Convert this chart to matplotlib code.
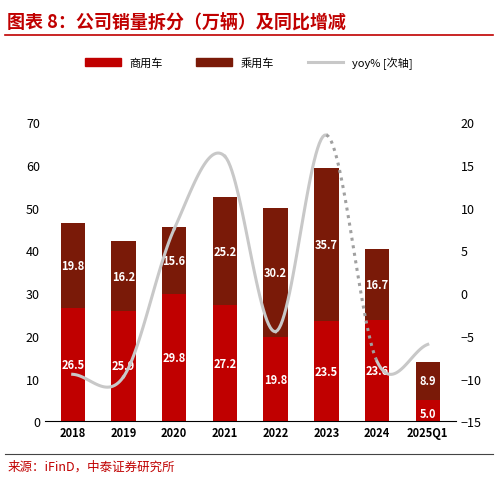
import numpy as np
import matplotlib.pyplot as plt
from matplotlib.lines import Line2D
from matplotlib.patches import Patch

plt.rcParams['font.family'] = ['Noto Sans CJK SC', 'DejaVu Sans']

years = ["2018", "2019", "2020", "2021", "2022", "2023", "2024", "2025Q1"]
commercial = [26.5, 25.9, 29.8, 27.2, 19.8, 23.5, 23.6, 5.0]
passenger = [19.8, 16.2, 15.6, 25.2, 30.2, 35.7, 16.7, 8.9]
yoy = [-9.5, -9.8, 7.5, 16.0, -4.5, 18.5, -8.0, -6.0]

RED = "#C00000"
DARK = "#7A1A08"


def smooth(xs, ys, n=30):
    # Catmull-Rom through the points, only for drawing the curve
    xs, ys = np.asarray(xs, float), np.asarray(ys, float)
    px = np.concatenate([[2 * xs[0] - xs[1]], xs, [2 * xs[-1] - xs[-2]]])
    py = np.concatenate([[2 * ys[0] - ys[1]], ys, [2 * ys[-1] - ys[-2]]])
    segs = []
    for i in range(1, len(px) - 2):
        t = np.linspace(0, 1, n)
        def cr(p):
            return 0.5 * (2 * p[i] + (-p[i - 1] + p[i + 1]) * t
                          + (2 * p[i - 1] - 5 * p[i] + 4 * p[i + 1] - p[i + 2]) * t ** 2
                          + (-p[i - 1] + 3 * p[i] - 3 * p[i + 1] + p[i + 2]) * t ** 3)
        segs.append((cr(px), cr(py)))
    return segs


fig = plt.figure(figsize=(4.98, 4.81), dpi=100)
ax = fig.add_axes([0.09, 0.122, 0.825, 0.622])
x = np.arange(len(years))
w = 0.48
ax.bar(x, commercial, w, color=RED, zorder=2)
ax.bar(x, passenger, w, bottom=commercial, color=DARK, zorder=2)
for i in range(len(years)):
    ax.text(x[i], commercial[i] / 2 if i < 7 else commercial[i] * 0.35, f"{commercial[i]:.1f}",
            ha="center", va="center", color="white", fontsize=8, fontweight="bold", fontstyle="italic")
    ax.text(x[i], commercial[i] + passenger[i] / 2, f"{passenger[i]:.1f}",
            ha="center", va="center", color="white", fontsize=8, fontweight="bold", fontstyle="italic")
ax.set_ylim(0, 70)
ax.set_yticks(range(0, 71, 10))
ax.set_xlim(-0.55, len(years) - 0.45)
ax.set_xticks(x)
ax.set_xticklabels(years, fontsize=8, fontweight="bold")
ax.tick_params(axis="y", labelsize=9, length=0)
ax.tick_params(axis="x", length=0)
for s in ["top", "right", "left"]:
    ax.spines[s].set_visible(False)

ax2 = ax.twinx()
segs = smooth(x, yoy)
for i, (sx, sy) in enumerate(segs):
    if i == 5:
        ax2.plot(sx, sy, color="#A0A0A0", lw=2.2, ls=(0, (1, 1.5)), zorder=3)
    else:
        ax2.plot(sx, sy, color="#C8C8C8", lw=2.2, zorder=3)
ax2.set_ylim(-15, 20)
ax2.set_yticks(range(-15, 21, 5))
ax2.tick_params(axis="y", labelsize=9, length=0)
for s in ["top", "right", "left", "bottom"]:
    ax2.spines[s].set_visible(False)

fig.text(0.015, 0.955, "图表 8：公司销量拆分（万辆）及同比增减", color=RED, fontsize=13,
         fontweight="bold", fontstyle="italic", va="center")
fig.add_artist(Line2D([0.01, 0.99], [0.925, 0.925], color=RED, lw=1.2))
handles = [Patch(color=RED), Patch(color=DARK), Line2D([], [], color="#C8C8C8", lw=2.2)]
fig.legend(handles, ["商用车", "乘用车", "yoy% [次轴]"], loc="center", bbox_to_anchor=(0.5, 0.868),
           ncol=3, frameon=False, fontsize=8, handlelength=3.2, handleheight=0.6, columnspacing=3)
fig.add_artist(Line2D([0.01, 0.99], [0.055, 0.055], color="#444444", lw=0.8))
fig.text(0.015, 0.028, "来源：iFinD，中泰证券研究所", color=RED, fontsize=9, va="center")

fig.savefig("out.png", dpi=100)
